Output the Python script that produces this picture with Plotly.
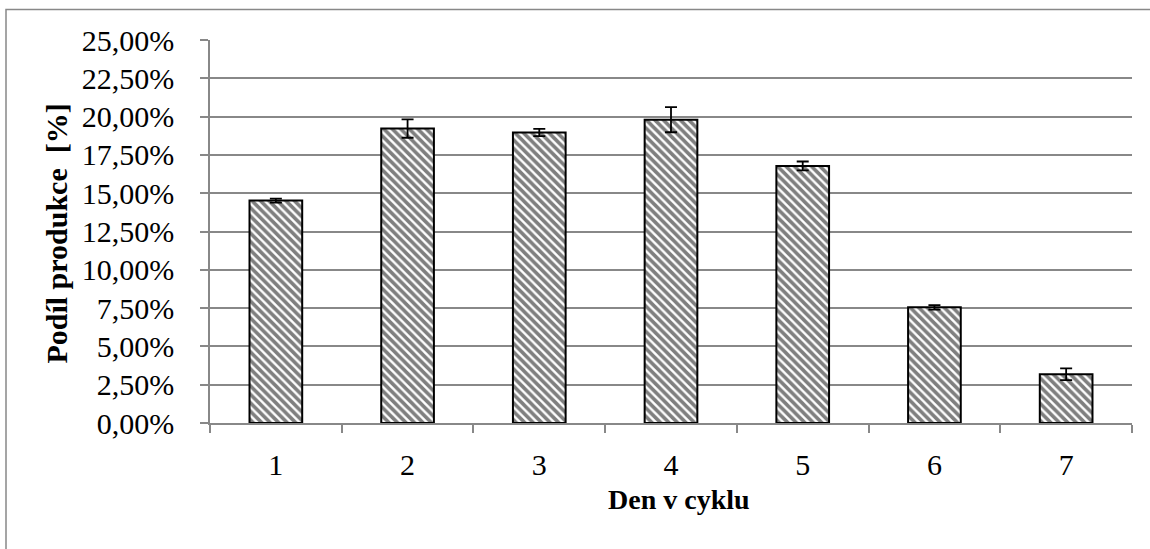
import plotly.graph_objects as go

days = ["1", "2", "3", "4", "5", "6", "7"]
share = [0.1452, 0.1922, 0.1896, 0.1980, 0.1678, 0.0755, 0.0318]
err = [0.0013, 0.0060, 0.0024, 0.0082, 0.0029, 0.0015, 0.0038]
y_ticks = [i * 0.025 for i in range(11)]

# plot area in pixels
L, R, T, B = 210, 1132, 40.4, 423.4
W, H = 1150, 549
pw, ph = R - L, B - T

def px_x(p):
    return (p - L) / pw

def px_y(p):
    return (B - p) / ph

serif = "Liberation Serif, Times New Roman, serif"

fig = go.Figure()
fig.add_trace(go.Bar(
    x=days, y=share, width=0.4,
    marker=dict(
        color="white",
        line=dict(color="black", width=2),
        pattern=dict(shape="\\", fgcolor="black", bgcolor="white", size=6, solidity=0.6),
    ),
    error_y=dict(type="data", array=err, visible=True, color="black", thickness=1.8, width=6),
    showlegend=False,
))

fig.update_layout(
    width=W, height=H,
    margin=dict(l=L, r=W - R, t=T, b=H - B),
    paper_bgcolor="white", plot_bgcolor="white",
    separators=", ",
    font=dict(family=serif, size=30, color="black"),
    bargap=0.6,
)
fig.update_xaxes(
    type="category", tickson="boundaries", ticks="outside", ticklen=8, tickwidth=1.5,
    tickcolor="#888888", showline=True, linecolor="#888888", linewidth=1.5,
    showgrid=False, tickfont=dict(family=serif, size=30), ticklabelstandoff=14,
)
fig.update_yaxes(
    range=[0, 0.25], tickvals=y_ticks, tickformat=".2%",
    ticks="outside", ticklen=8, tickwidth=1.5, tickcolor="#888888",
    showline=True, linecolor="#888888", linewidth=1.5,
    showgrid=True, gridcolor="#888888", gridwidth=1.5, zeroline=False,
    tickfont=dict(family=serif, size=30), ticklabelstandoff=20,
)

fig.add_annotation(text="<b>Den v cyklu</b>", xref="paper", yref="paper",
                   x=px_x(679), y=px_y(500), showarrow=False,
                   font=dict(family=serif, size=28, color="black"),
                   xanchor="center", yanchor="middle")
fig.add_annotation(text="<b>Podíl produkce\u00a0 [%]</b>", xref="paper", yref="paper",
                   x=px_x(57), y=px_y(234), showarrow=False, textangle=-90,
                   font=dict(family=serif, size=30, color="black"),
                   xanchor="center", yanchor="middle")

fig.add_shape(type="rect", xref="paper", yref="paper",
              x0=px_x(6), x1=px_x(1170), y0=px_y(10), y1=px_y(570),
              line=dict(color="#888888", width=1.5), fillcolor="rgba(0,0,0,0)", layer="below")

fig.write_html("out.html", config={"displayModeBar": False},
               post_script="document.body.style.margin='0';document.body.style.overflow='hidden';")
